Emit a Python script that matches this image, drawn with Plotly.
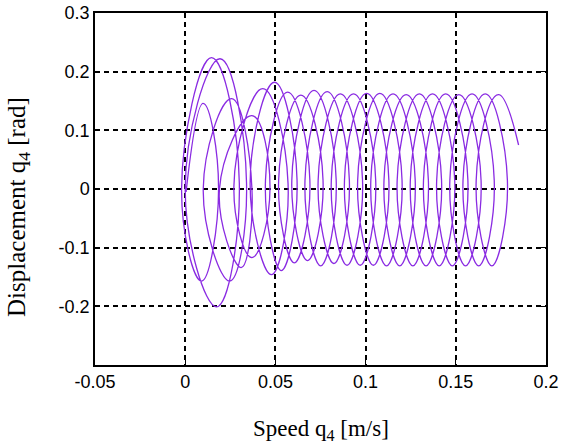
import plotly.graph_objects as go

# Key points of the trajectory (extremes of each loop)
speed = [
    0.0005,
    0.0099, 0.0185, 0.0090, -0.0020,
    0.0146, 0.0300, 0.0174, 0.0000,
    0.0193, 0.0340, 0.0246, 0.0100,
    0.0257, 0.0370, 0.0310, 0.0190,
    0.0370, 0.0470, 0.0370, 0.0270,
    0.0430, 0.0570, 0.0478, 0.0360,
    0.0495, 0.0620, 0.0533, 0.0445,
    0.0568, 0.0691, 0.0605, 0.0518,
    0.0641, 0.0764, 0.0678, 0.0591,
    0.0714, 0.0837, 0.0751, 0.0664,
    0.0787, 0.0910, 0.0824, 0.0737,
    0.0860, 0.0983, 0.0897, 0.0810,
    0.0933, 0.1056, 0.0970, 0.0883,
    0.1006, 0.1129, 0.1043, 0.0956,
    0.1079, 0.1202, 0.1116, 0.1029,
    0.1152, 0.1275, 0.1189, 0.1102,
    0.1225, 0.1348, 0.1262, 0.1175,
    0.1298, 0.1421, 0.1335, 0.1248,
    0.1371, 0.1494, 0.1408, 0.1321,
    0.1444, 0.1567, 0.1481, 0.1394,
    0.1517, 0.1640, 0.1554, 0.1467,
    0.1590, 0.1713, 0.1627, 0.1540,
    0.1663, 0.1786, 0.1700, 0.1613,
    0.1736, 0.1848,
]
displacement = [
    -0.005,
    0.146, 0.000, -0.157, 0.000,
    0.224, 0.010, -0.201, 0.000,
    0.222, 0.010, -0.157, 0.000,
    0.154, 0.000, -0.134, 0.000,
    0.125, 0.000, -0.117, 0.005,
    0.171, 0.010, -0.146, 0.010,
    0.182, 0.015, -0.139, 0.015,
    0.165, 0.015, -0.126, 0.015,
    0.160, 0.015, -0.122, 0.015,
    0.168, 0.015, -0.131, 0.015,
    0.166, 0.015, -0.127, 0.015,
    0.162, 0.015, -0.130, 0.015,
    0.162, 0.015, -0.130, 0.015,
    0.163, 0.015, -0.130, 0.015,
    0.163, 0.015, -0.131, 0.015,
    0.162, 0.015, -0.131, 0.015,
    0.161, 0.015, -0.131, 0.015,
    0.162, 0.015, -0.131, 0.015,
    0.162, 0.015, -0.131, 0.015,
    0.162, 0.015, -0.131, 0.015,
    0.161, 0.015, -0.131, 0.015,
    0.162, 0.015, -0.131, 0.015,
    0.162, 0.015, -0.131, 0.015,
    0.161, 0.075,
]

x_ticks = [-0.05, 0, 0.05, 0.1, 0.15, 0.2]
x_tick_labels = ["-0.05", "0", "0.05", "0.1", "0.15", "0.2"]
y_ticks = [-0.2, -0.1, 0, 0.1, 0.2, 0.3]
y_tick_labels = ["-0.2", "-0.1", "0", "0.1", "0.2", "0.3"]

fig = go.Figure()
fig.add_trace(go.Scatter(
    x=speed, y=displacement, mode="lines",
    line=dict(color="#8a2be2", width=1.3, shape="spline", smoothing=1.3),
    showlegend=False, hoverinfo="skip",
))

axis_common = dict(
    showline=True, linecolor="black", linewidth=1.5, mirror="ticks",
    showgrid=True, gridcolor="black", gridwidth=1.5, griddash="5px,4px",
    zeroline=False, ticks="inside", ticklen=5, tickcolor="black",
    automargin=False, ticklabeloverflow="allow",
    tickfont=dict(family="Liberation Sans, Arial", size=18, color="black"),
)

fig.update_xaxes(range=[-0.05, 0.2], tickvals=x_ticks, ticktext=x_tick_labels, **axis_common)
fig.update_yaxes(range=[-0.3, 0.3], tickvals=y_ticks, ticktext=y_tick_labels, **axis_common)

fig.update_layout(
    width=562, height=443,
    margin=dict(l=95, r=16, t=13, b=78),
    paper_bgcolor="white", plot_bgcolor="white",
    hovermode=False,
    annotations=[
        dict(text="Speed q<sub>4</sub> [m/s]", xref="paper", yref="paper",
             x=0.501, y=-0.185, xanchor="center", yanchor="middle", showarrow=False,
             font=dict(family="Liberation Serif, Times New Roman", size=23, color="black")),
        dict(text="Displacement q<sub>4</sub> [rad]", xref="paper", yref="paper",
             x=-0.1685, y=0.449, xanchor="center", yanchor="middle", showarrow=False,
             textangle=-90,
             font=dict(family="Liberation Serif, Times New Roman", size=25, color="black")),
    ],
)

# remove the page's default 8px body margin so the figure fills the window
fig.write_html("out.html", config={"displayModeBar": False},
               post_script="document.body.style.margin='0px';")
